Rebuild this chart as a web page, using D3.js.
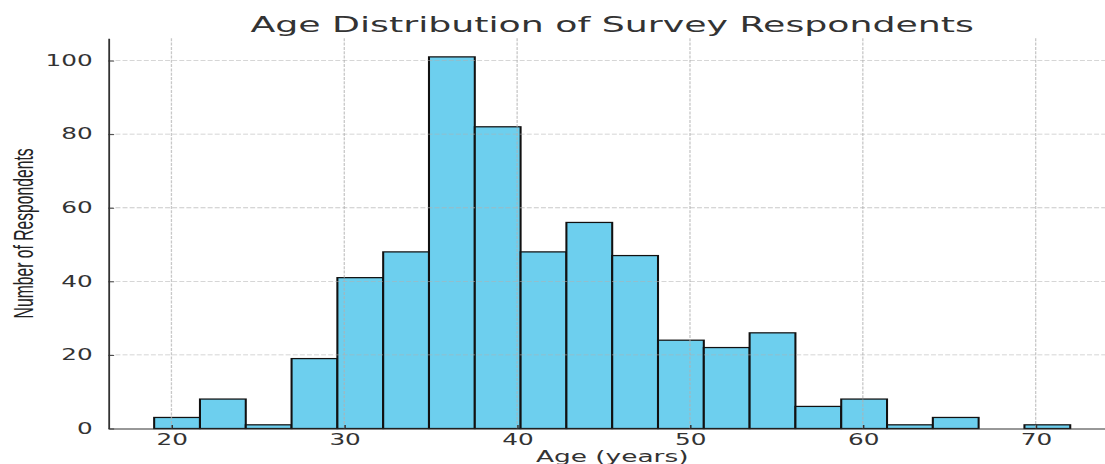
<!DOCTYPE html>
<html><head><meta charset="utf-8">
<script src="https://cdn.jsdelivr.net/npm/d3@7"></script>
<style>body{margin:0;background:#fff}svg{display:block}</style>
</head><body>
<svg id="c" width="1105" height="464" viewBox="0 0 670 464" preserveAspectRatio="none"></svg>
<script>
const binEdges = [19, 21.65, 24.3, 26.95, 29.6, 32.25, 34.9, 37.55, 40.2, 42.85, 45.5, 48.15, 50.8, 53.45, 56.1, 58.75, 61.4, 64.05, 66.7, 69.35, 72];
const counts = [3, 8, 1, 19, 41, 48, 101, 82, 48, 56, 47, 24, 22, 26, 6, 8, 1, 3, 0, 1];
const xTicks = [20, 30, 40, 50, 60, 70];
const yTicks = [0, 20, 40, 60, 80, 100];
const title = "Age Distribution of Survey Respondents";
const xLabel = "Age (years)";
const yLabel = "Number of Respondents";

const bins = counts.map((c, i) => ({x0: binEdges[i], x1: binEdges[i + 1], count: c}));

const svg = d3.select("#c");
const mLeft = 65.7, mRight = 676.7, mTop = 38.3, mBottom = 428.5;
const x = d3.scaleLinear().domain([16.35, 74.65]).range([mLeft, mRight]);
const y = d3.scaleLinear().domain([0, 106.05]).range([mBottom, mTop]);
const font = "'DejaVu Sans', sans-serif";

// bars
svg.append("g").selectAll("rect").data(bins).join("rect")
  .attr("x", d => x(d.x0)).attr("width", d => x(d.x1) - x(d.x0))
  .attr("y", d => y(d.count)).attr("height", d => y(0) - y(d.count))
  .attr("fill", "#6dcfee").attr("stroke", "#111").attr("stroke-width", 1.25);

// grid (on top of bars)
const grid = svg.append("g").attr("stroke", "#b0b0b0").attr("stroke-opacity", 0.7)
  .attr("stroke-width", 0.8).attr("stroke-dasharray", "3,1.3");
grid.selectAll("line.h").data(yTicks.filter(t => t > 0)).join("line").attr("class", "h")
  .attr("x1", mLeft).attr("x2", mRight).attr("y1", d => y(d)).attr("y2", d => y(d));
grid.selectAll("line.v").data(xTicks).join("line").attr("class", "v")
  .attr("y1", mTop).attr("y2", mBottom).attr("x1", d => x(d)).attr("x2", d => x(d));

// axes
const yAxis = svg.append("g").attr("transform", `translate(${mLeft},0)`)
  .call(d3.axisLeft(y).tickValues(yTicks).tickSizeInner(-3.5).tickSizeOuter(0).tickPadding(9.5));
const xAxis = svg.append("g").attr("transform", `translate(0,${mBottom})`)
  .call(d3.axisBottom(x).tickValues(xTicks).tickSizeInner(-3.5).tickSizeOuter(0).tickPadding(6));
[yAxis, xAxis].forEach(a => {
  a.select(".domain").attr("stroke", "#333").attr("stroke-width", 1.1);
  a.selectAll(".tick line").attr("stroke", "#333").attr("stroke-width", 0.9);
  a.selectAll(".tick text").attr("fill", "#333").style("font-family", font).style("font-size", "15px");
});

// title
svg.append("text").attr("x", (mLeft + mRight) / 2).attr("y", 32).attr("text-anchor", "middle")
  .style("font-family", font).style("font-size", "22px").attr("fill", "#333").text(title);

// x label
svg.append("text").attr("x", (mLeft + mRight) / 2).attr("y", 462).attr("text-anchor", "middle")
  .style("font-family", font).style("font-size", "16px").attr("fill", "#333").text(xLabel);

// y label
svg.append("text").attr("transform", `translate(19.8,${(mTop + mBottom) / 2}) rotate(-90)`)
  .attr("text-anchor", "middle")
  .style("font-family", "'Liberation Sans Narrow', 'Liberation Sans', sans-serif").style("font-size", "16.5px")
  .attr("textLength", 170).attr("lengthAdjust", "spacingAndGlyphs")
  .attr("fill", "#222").text(yLabel);
</script>
</body></html>
